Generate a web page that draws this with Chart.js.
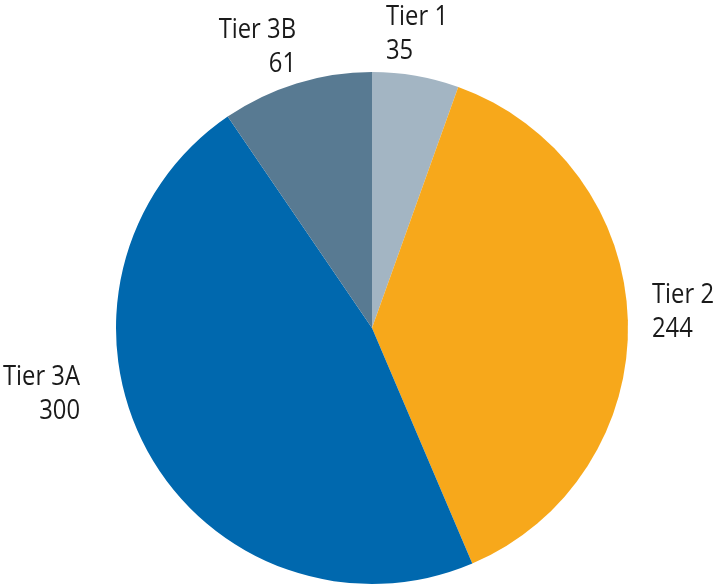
<!DOCTYPE html>
<html>
<head>
<meta charset="utf-8">
<script src="https://cdn.jsdelivr.net/npm/chart.js@4"></script>
<style>
  html, body { margin: 0; padding: 0; background: #ffffff; }
  #wrap { width: 714px; height: 585px; }
</style>
</head>
<body>
<div id="wrap"><canvas id="chartTiers" width="714" height="585"></canvas></div>
<script>
// Datos del gráfico
const categorias = ['Tier 1', 'Tier 2', 'Tier 3A', 'Tier 3B'];
const valores = [35, 244, 300, 61];
const colores = ['#a3b5c3', '#f7a81b', '#0068ae', '#587a92'];

// Posición de cada etiqueta respecto al centro de la torta (px) y alineación
const ubicacionEtiquetas = [
    { dx: 14, dy: -303, align: 'left' },
    { dx: 280, dy: -25, align: 'left' },
    { dx: -292, dy: 57, align: 'right' },
    { dx: -76, dy: -290, align: 'right' }
];

// Texto condensado (la fuente original es estrecha)
function textoEstrecho(ctx, texto, x, y, align) {
    const escala = 0.85;
    ctx.save();
    ctx.translate(x, y);
    ctx.scale(escala, 1);
    ctx.textAlign = align;
    ctx.fillText(texto, 0, 0);
    ctx.restore();
}

// Plugin sencillo para dibujar nombre + valor fuera de cada porción
const pluginEtiquetas = {
    id: 'etiquetasTorta',
    afterDatasetsDraw(chart) {
        const { ctx } = chart;
        const meta = chart.getDatasetMeta(0);
        ctx.save();
        ctx.fillStyle = '#1a1a1a';
        ctx.font = '28px "Open Sans", "Noto Sans", sans-serif';
        ctx.textBaseline = 'alphabetic';
        meta.data.forEach((arc, i) => {
            const pos = ubicacionEtiquetas[i];
            const x = arc.x + pos.dx;
            const y = arc.y + pos.dy;
            textoEstrecho(ctx, categorias[i], x, y, pos.align);
            textoEstrecho(ctx, String(valores[i]), x, y + 34, pos.align);
        });
        ctx.restore();
    }
};

new Chart(document.getElementById('chartTiers'), {
    type: 'pie',
    data: {
        labels: categorias,
        datasets: [{
            data: valores,
            backgroundColor: colores,
            borderWidth: 0
        }]
    },
    options: {
        responsive: false,
        animation: false,
        layout: { padding: { top: 72, bottom: 1, left: 116, right: 86 } },
        plugins: {
            legend: { display: false },
            tooltip: { enabled: false }
        }
    },
    plugins: [pluginEtiquetas]
});
</script>
</body>
</html>
